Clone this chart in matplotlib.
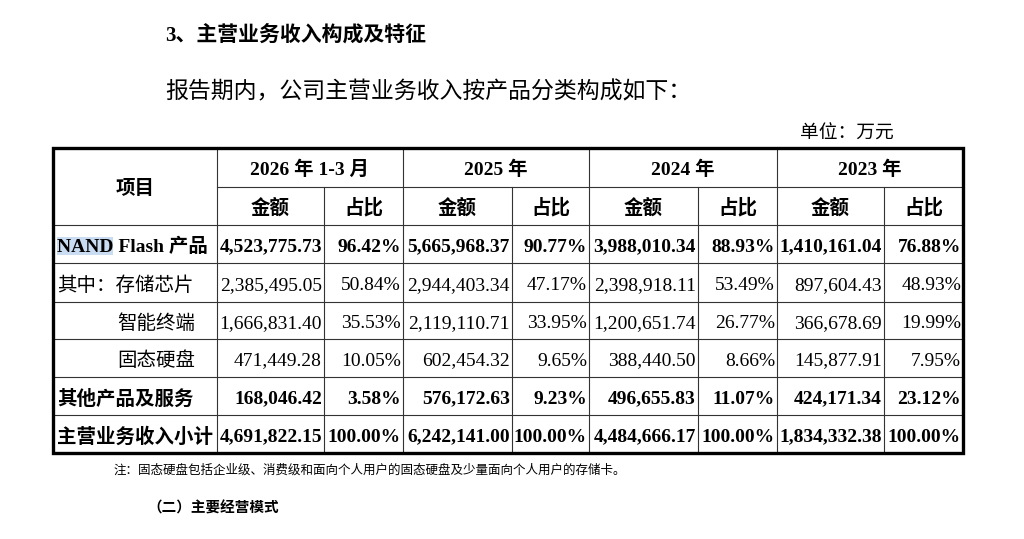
import matplotlib
matplotlib.use("Agg")
import matplotlib.pyplot as plt
from matplotlib.patches import Rectangle

# ---------------- data ----------------
title = "3、主营业务收入构成及特征"
intro = "报告期内，公司主营业务收入按产品分类构成如下："
unit_label = "单位：万元"
note = "注：固态硬盘包括企业级、消费级和面向个人用户的固态硬盘及少量面向个人用户的存储卡。"
next_heading = "（二）主要经营模式"

item_header = "项目"
sub_headers = ["金额", "占比"]
periods = ["2026 年 1-3 月", "2025 年", "2024 年", "2023 年"]
items = ["NAND Flash 产品", "其中：存储芯片", "智能终端", "固态硬盘", "其他产品及服务", "主营业务收入小计"]
item_indent = [0, 0, 1, 1, 0, 0]
item_bold = [True, False, False, False, True, True]

amounts_2026q1 = [4523775.73, 2385495.05, 1666831.40, 471449.28, 168046.42, 4691822.15]
shares_2026q1 = [96.42, 50.84, 35.53, 10.05, 3.58, 100.00]
amounts_2025 = [5665968.37, 2944403.34, 2119110.71, 602454.32, 576172.63, 6242141.00]
shares_2025 = [90.77, 47.17, 33.95, 9.65, 9.23, 100.00]
amounts_2024 = [3988010.34, 2398918.11, 1200651.74, 388440.50, 496655.83, 4484666.17]
shares_2024 = [88.93, 53.49, 26.77, 8.66, 11.07, 100.00]
amounts_2023 = [1410161.04, 897604.43, 366678.69, 145877.91, 424171.34, 1834332.38]
shares_2023 = [76.88, 48.93, 19.99, 7.95, 23.12, 100.00]

period_data = [
    (amounts_2026q1, shares_2026q1),
    (amounts_2025, shares_2025),
    (amounts_2024, shares_2024),
    (amounts_2023, shares_2023),
]

# ---------------- layout ----------------
FAM = ["Liberation Serif", "Noto Sans CJK SC"]
SANS = ["Noto Sans CJK SC", "DejaVu Sans"]
plt.rcParams["font.family"] = FAM

W, H = 1024, 539
fig = plt.figure(figsize=(W / 100, H / 100), dpi=100)
ax = fig.add_axes([0, 0, 1, 1])
ax.set_xlim(0, W)
ax.set_ylim(H, 0)
ax.axis("off")

col_edges = [53, 217, 324, 403, 512, 589, 698, 777, 884, 963]
row_edges = [148, 187, 225, 263, 302, 339, 377, 415, 453]
inner_kw = dict(color="#333333", lw=0.8, zorder=2)
FS = 14

# heading texts
ax.text(165, 35, title, fontsize=15, fontweight="bold", ha="left", va="center", family=FAM)
ax.text(165, 92, intro, fontsize=16.5, ha="left", va="center", family=SANS)
ax.text(800, 133, unit_label, fontsize=13.5, ha="left", va="center", family=SANS)

# grid lines
top, bot = row_edges[0], row_edges[-1]
left, right = col_edges[0], col_edges[-1]
ax.plot([col_edges[1], right], [row_edges[1]] * 2, **inner_kw)
for y in row_edges[2:-1]:
    ax.plot([left, right], [y, y], **inner_kw)
for i, x in enumerate(col_edges[1:-1], start=1):
    y0 = top if i % 2 == 1 else row_edges[1]
    ax.plot([x, x], [y0, bot], **inner_kw)
ax.add_patch(Rectangle((left, top), right - left, bot - top, fill=False,
                       edgecolor="black", lw=2.4, zorder=3))

# header
ax.text((col_edges[0] + col_edges[1]) / 2, (row_edges[0] + row_edges[2]) / 2, item_header,
        fontsize=FS, fontweight="bold", ha="center", va="center_baseline")
for p, label in enumerate(periods):
    c0 = 1 + 2 * p
    ax.text((col_edges[c0] + col_edges[c0 + 2]) / 2, (row_edges[0] + row_edges[1]) / 2, label,
            fontsize=FS, fontweight="bold", ha="center", va="center_baseline")
    for k in range(2):
        ax.text((col_edges[c0 + k] + col_edges[c0 + k + 1]) / 2, (row_edges[1] + row_edges[2]) / 2,
                sub_headers[k], fontsize=FS, fontweight="bold", ha="center", va="center_baseline")

# body
for r, name in enumerate(items):
    yc = (row_edges[r + 2] + row_edges[r + 3]) / 2 + 1
    wt = "bold" if item_bold[r] else "normal"
    x0 = col_edges[0] + 4 + 60 * item_indent[r]
    if r == 0:
        ax.add_patch(Rectangle((x0, yc - 8.5), 56, 18, color="#cadcf1", zorder=1, lw=0))
    ax.text(x0, yc, name, fontsize=FS, fontweight=wt, ha="left", va="center_baseline", zorder=4)
    for p, (amts, shs) in enumerate(period_data):
        c0 = 1 + 2 * p
        ax.text(col_edges[c0 + 1] - 2, yc, f"{amts[r]:,.2f}", fontsize=FS, fontweight=wt,
                ha="right", va="center_baseline", zorder=4)
        ax.text(col_edges[c0 + 2] - 2, yc, f"{shs[r]:.2f}%", fontsize=FS, fontweight=wt,
                ha="right", va="center_baseline", zorder=4)

# footer
ax.text(113, 470, note, fontsize=9, ha="left", va="center", family=SANS)
ax.text(147, 508, next_heading, fontsize=10.5, fontweight="bold", ha="left", va="center", family=SANS)

fig.savefig("out.png", dpi=100, facecolor="white")
